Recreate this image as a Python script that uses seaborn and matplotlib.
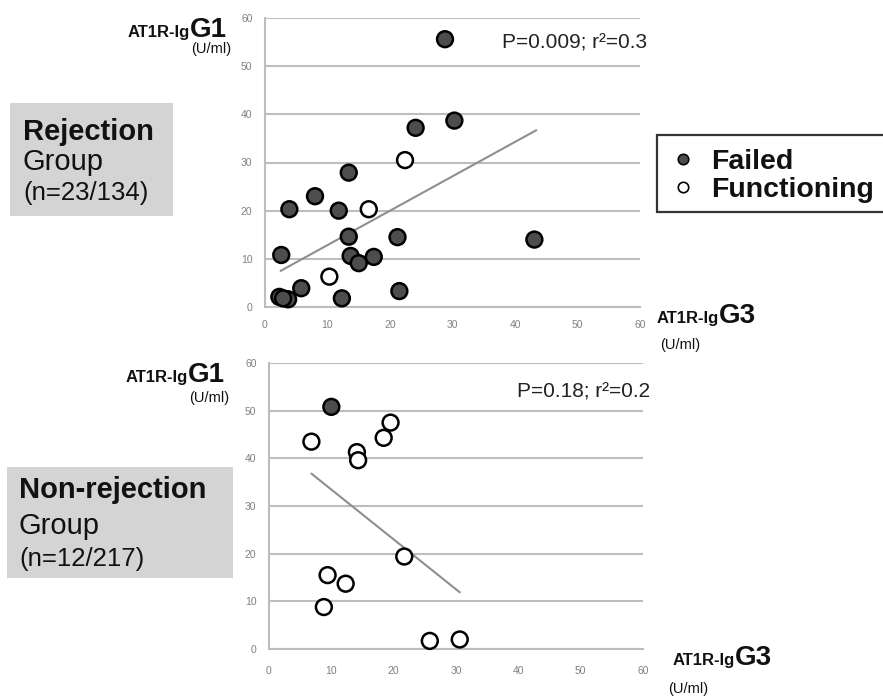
import matplotlib
matplotlib.use("Agg")
import matplotlib.pyplot as plt
from matplotlib.lines import Line2D
from matplotlib.patches import Rectangle
import seaborn as sns
import pandas as pd

# ---------------- data ----------------
top_failed_x = [28.8, 30.3, 24.1, 13.4, 8.0, 3.9, 11.8, 13.4, 21.2, 43.1, 2.6, 13.7, 17.4, 15.0, 5.8, 21.5, 2.3, 3.7, 12.3, 2.9]
top_failed_y = [55.6, 38.7, 37.2, 27.9, 23.0, 20.3, 20.0, 14.6, 14.5, 14.0, 10.8, 10.6, 10.4, 9.1, 3.9, 3.3, 2.1, 1.6, 1.8, 1.8]
top_func_x = [22.4, 16.6, 10.3]
top_func_y = [30.5, 20.3, 6.3]
top_trend_x = [2.5, 43.4]
top_trend_y = [7.5, 36.7]

bot_failed_x = [10.0]
bot_failed_y = [50.8]
bot_func_x = [6.8, 14.1, 14.3, 18.4, 19.5, 21.7, 9.4, 12.3, 8.8, 25.8, 30.6]
bot_func_y = [43.5, 41.3, 39.6, 44.3, 47.5, 19.4, 15.5, 13.7, 8.8, 1.7, 2.0]
bot_trend_x = [6.8, 30.6]
bot_trend_y = [36.8, 11.9]

ticks = [0, 10, 20, 30, 40, 50, 60]
statuses = ["Failed", "Functioning"]
top_stat = "P=0.009; r\u00b2=0.3"
bot_stat = "P=0.18; r\u00b2=0.2"
top_group = ["Rejection", "Group", "(n=23/134)"]
bot_group = ["Non-rejection", "Group", "(n=12/217)"]

# ---------------- style ----------------
sns.set_style("white")
plt.rcParams["font.family"] = ["Liberation Sans", "DejaVu Sans"]

W, H = 883, 698
fig = plt.figure(figsize=(W / 100, H / 100), dpi=100)

def fx(x):
    return x / W

def fy(y):
    return 1 - y / H

def make_ax(l, r, t, b):
    return fig.add_axes([fx(l), fy(b), fx(r) - fx(l), fy(t) - fy(b)])

palette = {"Failed": "#4d4d4d", "Functioning": "white"}
grid_c = "#bdbdbd"
tick_c = "#808080"
txt_c = "#111111"

def panel(ax, fxs, fys, uxs, uys, tx, ty, stat, stat_y, xpad):
    df = pd.DataFrame({
        "x": list(fxs) + list(uxs),
        "y": list(fys) + list(uys),
        "status": [statuses[0]] * len(fxs) + [statuses[1]] * len(uxs),
    })
    ax.set_axisbelow(True)
    sns.lineplot(x=tx, y=ty, ax=ax, color="#8f8f8f", lw=1.5, zorder=2)
    sns.scatterplot(data=df, x="x", y="y", hue="status", palette=palette,
                    edgecolor="black", linewidth=1.8, s=130, legend=False,
                    ax=ax, zorder=3, clip_on=False)
    ax.set_xlim(0, 60)
    ax.set_ylim(0, 60)
    ax.set_xticks(ticks)
    ax.set_yticks(ticks)
    ax.yaxis.grid(True, color=grid_c, lw=1.5)
    ax.xaxis.grid(False)
    for s in ["top", "right"]:
        ax.spines[s].set_visible(False)
    for s in ["left", "bottom"]:
        ax.spines[s].set_color(grid_c)
        ax.spines[s].set_linewidth(1.5)
    ax.tick_params(axis="both", labelsize=7.5, labelcolor=tick_c, colors=grid_c,
                   length=4, width=1)
    ax.tick_params(axis="y", pad=5)
    ax.tick_params(axis="x", pad=xpad)
    ax.set_xlabel("")
    ax.set_ylabel("")
    ax.text(1.02, stat_y, stat, transform=ax.transAxes, ha="right", va="center",
            fontsize=15, color="#222222")

ax1 = make_ax(265, 640, 18, 307)
panel(ax1, top_failed_x, top_failed_y, top_func_x, top_func_y,
      top_trend_x, top_trend_y, top_stat, 0.915, 5)
ax2 = make_ax(269, 643, 363, 649)
panel(ax2, bot_failed_x, bot_failed_y, bot_func_x, bot_func_y,
      bot_trend_x, bot_trend_y, bot_stat, 0.90, 8)

# ---------------- axis labels ----------------
def label(xsplit, ybase, big, yunit, xunit, ha_unit="right"):
    fig.text(fx(xsplit), fy(ybase), "AT1R-Ig", ha="right", va="baseline",
             fontsize=12, fontweight="bold", color=txt_c)
    fig.text(fx(xsplit), fy(ybase), big, ha="left", va="baseline",
             fontsize=20, fontweight="bold", color=txt_c)
    fig.text(fx(xunit), fy(yunit), "(U/ml)", ha=ha_unit, va="baseline",
             fontsize=10.5, color=txt_c)

label(190, 37, "G1", 53, 231)
label(188, 382, "G1", 402, 229)
label(719, 323, "G3", 349, 660, ha_unit="left")
label(735, 665, "G3", 693, 668, ha_unit="left")

# ---------------- group boxes ----------------
def group_box(l, r, t, b, x0, lines, bases):
    fig.patches.append(Rectangle((fx(l), fy(b)), fx(r) - fx(l), fy(t) - fy(b),
                                 transform=fig.transFigure, facecolor="#d4d4d4",
                                 edgecolor="none", zorder=0))
    fig.text(fx(x0), fy(bases[0]), lines[0], fontsize=21, fontweight="bold",
             va="baseline", ha="left", color=txt_c)
    fig.text(fx(x0), fy(bases[1]), lines[1], fontsize=21,
             va="baseline", ha="left", color=txt_c)
    fig.text(fx(x0), fy(bases[2]), lines[2], fontsize=18.5,
             va="baseline", ha="left", color=txt_c)

group_box(10, 173, 103, 216, 23, top_group, [140, 170, 200])
group_box(7, 233, 467, 578, 19, bot_group, [498, 534, 566])

# ---------------- legend ----------------
fig.patches.append(Rectangle((fx(657), fy(212)), fx(900) - fx(657), fy(135) - fy(212),
                             transform=fig.transFigure, facecolor="white",
                             edgecolor="#333333", linewidth=1.6, zorder=1))
leg_y = [159, 187]
leg_face = [palette["Failed"], "white"]
for yy, fc, name in zip(leg_y, leg_face, statuses):
    fig.add_artist(Line2D([fx(683)], [fy(yy)], transform=fig.transFigure,
                          marker="o", linestyle="none", markersize=7.5,
                          markerfacecolor=fc, markeredgecolor="black",
                          markeredgewidth=1.2))
    fig.text(fx(711), fy(yy), name, fontsize=20.5, fontweight="bold",
             va="center_baseline", ha="left", color=txt_c)

fig.savefig("out.png", dpi=100)
